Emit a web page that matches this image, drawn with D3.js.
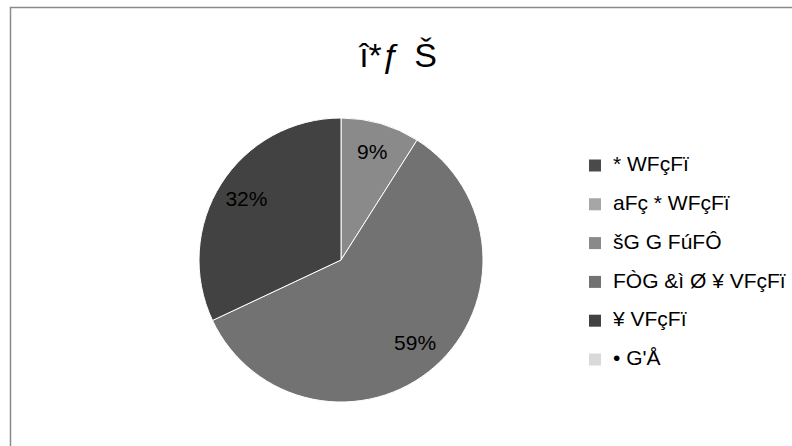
<!DOCTYPE html>
<meta charset="utf-8">
<style>
body { margin: 0; background: #fff; }
svg { font-family: Arial, "Liberation Sans", sans-serif; }
</style>
<svg width="792" height="446"></svg>
<script src="https://d3js.org/d3.v7.min.js"></script>
<script>
// chart data
var title = "î*ƒ Š";
var categories = ["* WFçFï", "aFç * WFçFï", "šG G FúFÔ", "FÒG &ì Ø ¥ VFçFï", "¥ VFçFï", "• G'Å"];
var values = [0, 0, 9, 59, 32, 0];
var colors = ["#4a4a4a", "#a6a6a6", "#8a8a8a", "#727272", "#424242", "#d9d9d9"];

var svg = d3.select("svg"),
    width = +svg.attr("width"),
    height = +svg.attr("height");

// outer frame
svg.append("rect")
    .attr("x", 10.5).attr("y", 7.5)
    .attr("width", 800).attr("height", 460)
    .attr("fill", "none")
    .attr("stroke", "#8a8a8a")
    .attr("stroke-width", 1.5);

svg.append("text")
    .attr("x", 398).attr("y", 67)
    .attr("text-anchor", "middle")
    .attr("font-size", 34)
    .style("word-spacing", "4px")
    .attr("fill", "#000")
    .text(title);

var color = d3.scaleOrdinal().domain(categories).range(colors);
var total = d3.sum(values);

var pie = d3.pie().sort(null).value(function(d) { return d.value; });
var data = categories.map(function(c, i) { return {name: c, value: values[i]}; });

var radius = 142;
var arc = d3.arc().innerRadius(0).outerRadius(radius);
var labelArc = d3.arc().innerRadius(112).outerRadius(112);

var g = svg.append("g").attr("transform", "translate(341,260)");

var slices = pie(data).filter(function(d) { return d.data.value > 0; });

g.selectAll("path")
  .data(slices)
  .enter().append("path")
    .attr("d", arc)
    .attr("fill", function(d) { return color(d.data.name); })
    .attr("stroke", "#fff")
    .attr("stroke-width", 1);

g.selectAll("text")
  .data(slices)
  .enter().append("text")
    .attr("transform", function(d) { return "translate(" + labelArc.centroid(d) + ")"; })
    .attr("text-anchor", "middle")
    .attr("dy", "0.3em")
    .attr("font-size", 21)
    .attr("fill", "#000")
    .text(function(d) { return Math.round(d.data.value / total * 100) + "%"; });

// legend
var legend = svg.append("g").attr("transform", "translate(589,165.5)");
var row = legend.selectAll("g")
  .data(categories)
  .enter().append("g")
    .attr("transform", function(d, i) { return "translate(0," + (i * 38.8) + ")"; });

row.append("rect")
    .attr("x", 0).attr("y", -6)
    .attr("width", 12).attr("height", 12)
    .attr("fill", function(d) { return color(d); });

row.append("text")
    .attr("x", 24)
    .attr("dy", "0.27em")
    .attr("font-size", 21)
    .attr("fill", "#000")
    .text(function(d) { return d; });
</script>
